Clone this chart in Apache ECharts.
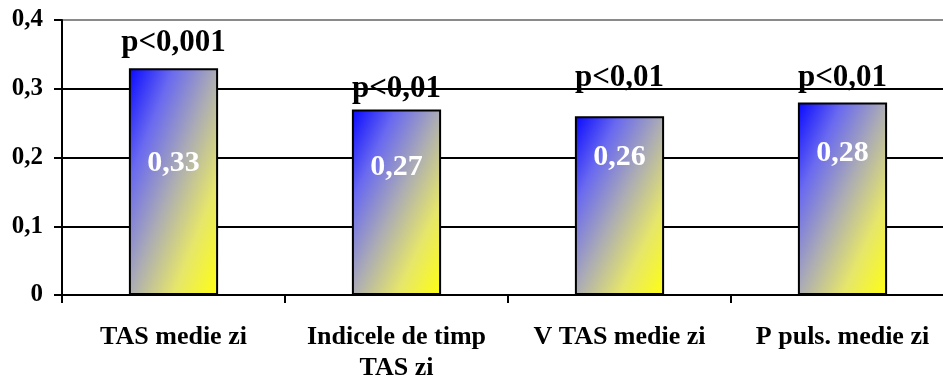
<!DOCTYPE html>
<html>
<head>
<meta charset="utf-8">
<script src="https://cdn.jsdelivr.net/npm/echarts@6/dist/echarts.min.js"></script>
<style>
html,body{margin:0;padding:0;background:#fff;}
#chart{width:943px;height:380px;}
</style>
</head>
<body>
<div id="chart"></div>
<script>
// ---- data ----
var categories = ['TAS medie zi', 'Indicele de timp\nTAS zi', 'V TAS medie zi', 'P puls. medie zi'];
var values = [0.33, 0.27, 0.26, 0.28];
var pLabels = ['p<0,001', 'p<0,01', 'p<0,01', 'p<0,01'];
var yTicks = [0, 0.1, 0.2, 0.3, 0.4];

// ---- styling (not data) ----
var pLift = [10, 5, 23, 9];             // px gap above bar for the p-label
var valueLabelDown = [95, 58, 41, 51];  // px from bar top to value label centre
var FONT = '"Liberation Serif", "Times New Roman", serif';
var GRID = {left: 62, top: 20, right: -11, bottom: 85};
var BAR_FRAC = 0.4;

function fmt(v) { return String(v).replace('.', ','); }

var chart = echarts.init(document.getElementById('chart'), null, {renderer: 'canvas'});

// gradient whose colour bands run along the bar's anti-diagonal (blue top-left -> yellow bottom-right)
function barGradient(v) {
  var plotW = 943 - GRID.left - GRID.right;
  var plotH = 380 - GRID.top - GRID.bottom;
  var w = plotW / categories.length * BAR_FRAC;
  var h = v / (yTicks[yTicks.length - 1] - yTicks[0]) * plotH;
  var s = w * w + h * h;
  return new echarts.graphic.LinearGradient(0, 0, 2 * h * h / s, 2 * w * w / s, [
    {offset: 0, color: '#0808ff'},
    {offset: 0.25, color: '#6a6af0'},
    {offset: 0.5, color: '#acacb4'},
    {offset: 0.75, color: '#e6e66a'},
    {offset: 1, color: '#ffff10'}
  ]);
}

var barData = values.map(function (v, i) {
  return {
    value: v,
    itemStyle: {color: barGradient(v)},
    label: {
      show: true,
      position: ['50%', valueLabelDown[i]],
      align: 'center',
      verticalAlign: 'middle',
      formatter: fmt(v),
      color: '#ffffff',
      fontFamily: FONT,
      fontWeight: 'bold',
      fontSize: 30
    }
  };
});

var pData = values.map(function (v, i) {
  return {
    value: v,
    label: {
      show: true,
      position: 'top',
      distance: pLift[i],
      formatter: pLabels[i],
      color: '#000000',
      fontFamily: FONT,
      fontWeight: 'bold',
      fontSize: 31
    }
  };
});

chart.setOption({
  animation: false,
  backgroundColor: '#ffffff',
  grid: {left: GRID.left, top: GRID.top, right: GRID.right, bottom: GRID.bottom, containLabel: false, outerBoundsMode: 'none'},
  xAxis: {
    type: 'category',
    data: categories,
    boundaryGap: true,
    axisLine: {show: true, lineStyle: {color: '#000', width: 2}},
    axisTick: {show: true, alignWithLabel: false, length: 8, inside: false, lineStyle: {color: '#000', width: 2}},
    axisLabel: {
      interval: 0,
      margin: 27,
      color: '#000',
      fontFamily: FONT,
      fontWeight: 'bold',
      fontSize: 26,
      lineHeight: 31
    },
    splitLine: {show: false}
  },
  yAxis: {
    type: 'value',
    min: yTicks[0],
    max: yTicks[yTicks.length - 1],
    interval: 0.1,
    axisLine: {show: true, lineStyle: {color: '#000', width: 2}},
    axisTick: {show: true, length: 8, inside: false, lineStyle: {color: '#000', width: 2}},
    axisLabel: {
      margin: 19,
      color: '#000',
      fontFamily: FONT,
      fontWeight: 'bold',
      fontSize: 25,
      formatter: function (v) { return fmt(Math.round(v * 10) / 10); }
    },
    splitLine: {show: true, lineStyle: {color: ['#000', '#000', '#000', '#000', '#8a8a8a'], width: 2}}
  },
  series: [
    {
      type: 'bar',
      data: barData,
      barWidth: (BAR_FRAC * 100) + '%',
      itemStyle: {borderColor: '#000', borderWidth: 2},
      z: 3
    },
    {
      type: 'bar',
      data: pData,
      barWidth: (BAR_FRAC * 100) + '%',
      barGap: '-100%',
      itemStyle: {color: 'rgba(0,0,0,0)', borderWidth: 0},
      silent: true,
      z: 4
    }
  ]
});
</script>
</body>
</html>
